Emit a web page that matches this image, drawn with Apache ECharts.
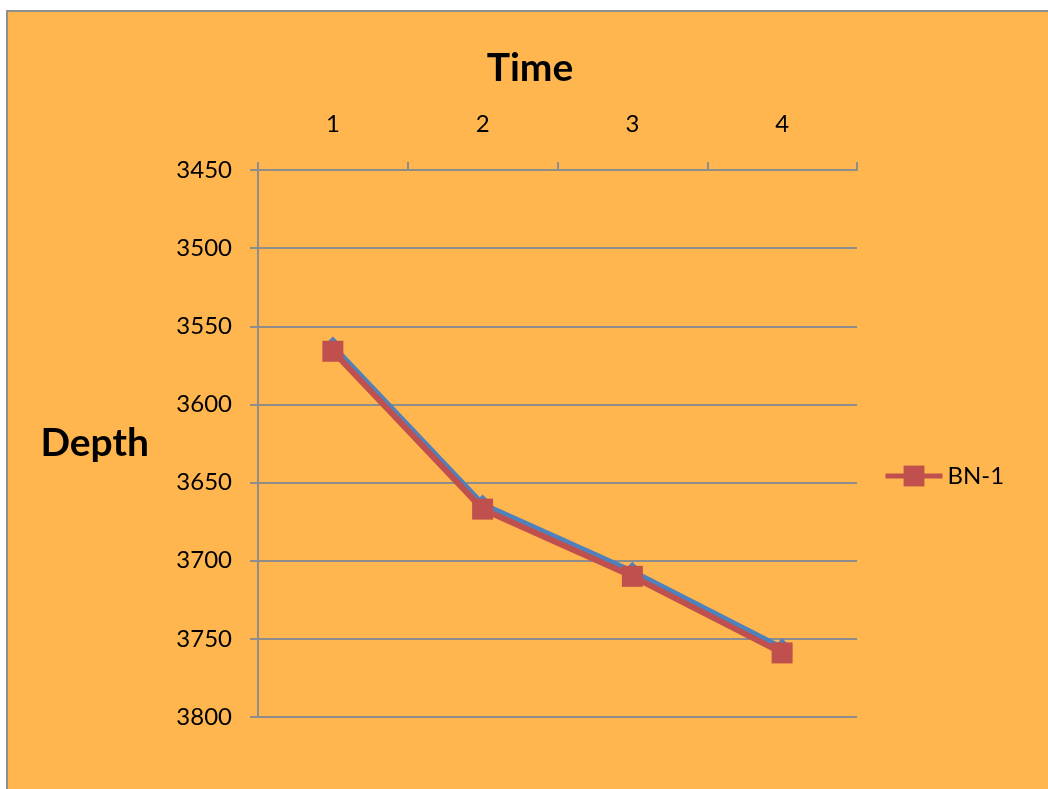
<!DOCTYPE html>
<html>
<head>
<meta charset="utf-8">
<script src="https://cdn.jsdelivr.net/npm/echarts@6/dist/echarts.min.js"></script>
<style>
  html, body { margin: 0; padding: 0; background: #ffffff; }
  #chart { width: 1048px; height: 789px; }
</style>
</head>
<body>
<div id="chart"></div>
<script>
// Time steps along the top axis
const timeSteps = ['1', '2', '3', '4'];
// Depth readings for well BN-1
const depthBN1 = [3566, 3667, 3710, 3759];
// Companion trace drawn just above BN-1 (no legend entry)
const depthTrace = [3563, 3664, 3707, 3756];
// Depth axis range
const depthMin = 3450;
const depthMax = 3800;
const depthStep = 50;

const FONT = 'Lato, "Open Sans", sans-serif';
const AXIS_GRAY = '#8d8d8d';

const chart = echarts.init(document.getElementById('chart'), null, { renderer: 'canvas' });

chart.setOption({
  backgroundColor: '#ffffff',
  animation: false,
  graphic: [{
    type: 'rect',
    z: -100,
    silent: true,
    shape: { x: 7, y: 11, width: 1060, height: 800 },
    style: { fill: '#ffb64f', stroke: '#8f8f8f', lineWidth: 2 }
  }],
  title: {
    text: 'Time',
    left: 525,
    top: 44,
    textAlign: 'center',
    textStyle: { fontFamily: FONT, fontSize: 39, fontWeight: 'bold', color: '#000' }
  },
  legend: {
    data: ['BN-1'],
    left: 883,
    top: 464,
    padding: 0,
    itemWidth: 57,
    itemHeight: 26,
    itemGap: 10,
    lineStyle: { width: 5 },
    textStyle: { fontFamily: FONT, fontSize: 24, color: '#000' }
  },
  grid: { left: 258, top: 170, right: 191, bottom: 72, containLabel: false, outerBoundsMode: 'none' },
  xAxis: {
    type: 'category',
    position: 'top',
    data: timeSteps,
    boundaryGap: true,
    axisLine: { show: true, onZero: false, lineStyle: { color: AXIS_GRAY, width: 2 } },
    axisTick: { show: true, inside: false, length: 8, lineStyle: { color: AXIS_GRAY, width: 2 } },
    axisLabel: { margin: 34, fontFamily: FONT, fontSize: 24, color: '#000' },
    splitLine: { show: false }
  },
  yAxis: {
    type: 'value',
    inverse: true,
    min: depthMin,
    max: depthMax,
    interval: depthStep,
    name: 'Depth',
    nameLocation: 'middle',
    nameRotate: 0,
    nameGap: 109,
    nameTextStyle: { fontFamily: FONT, fontSize: 39, fontWeight: 'bold', color: '#000', padding: [10, 0, 0, 0] },
    axisLine: { show: true, lineStyle: { color: AXIS_GRAY, width: 2 } },
    axisTick: { show: true, inside: false, length: 8, lineStyle: { color: AXIS_GRAY, width: 2 } },
    axisLabel: { margin: 26, fontFamily: FONT, fontSize: 24, color: '#000', formatter: v => String(v) },
    splitLine: { show: true, lineStyle: { color: AXIS_GRAY, width: 2 } }
  },
  series: [
    {
      name: 'trace',
      type: 'line',
      data: depthTrace,
      symbol: 'diamond',
      symbolSize: 20,
      itemStyle: { color: '#4f81bd' },
      lineStyle: { color: '#4f81bd', width: 6 },
      z: 3
    },
    {
      name: 'BN-1',
      type: 'line',
      data: depthBN1,
      symbol: 'rect',
      symbolSize: 21,
      itemStyle: { color: '#c0504d' },
      lineStyle: { color: '#c0504d', width: 6 },
      z: 4
    }
  ]
});
</script>
</body>
</html>
